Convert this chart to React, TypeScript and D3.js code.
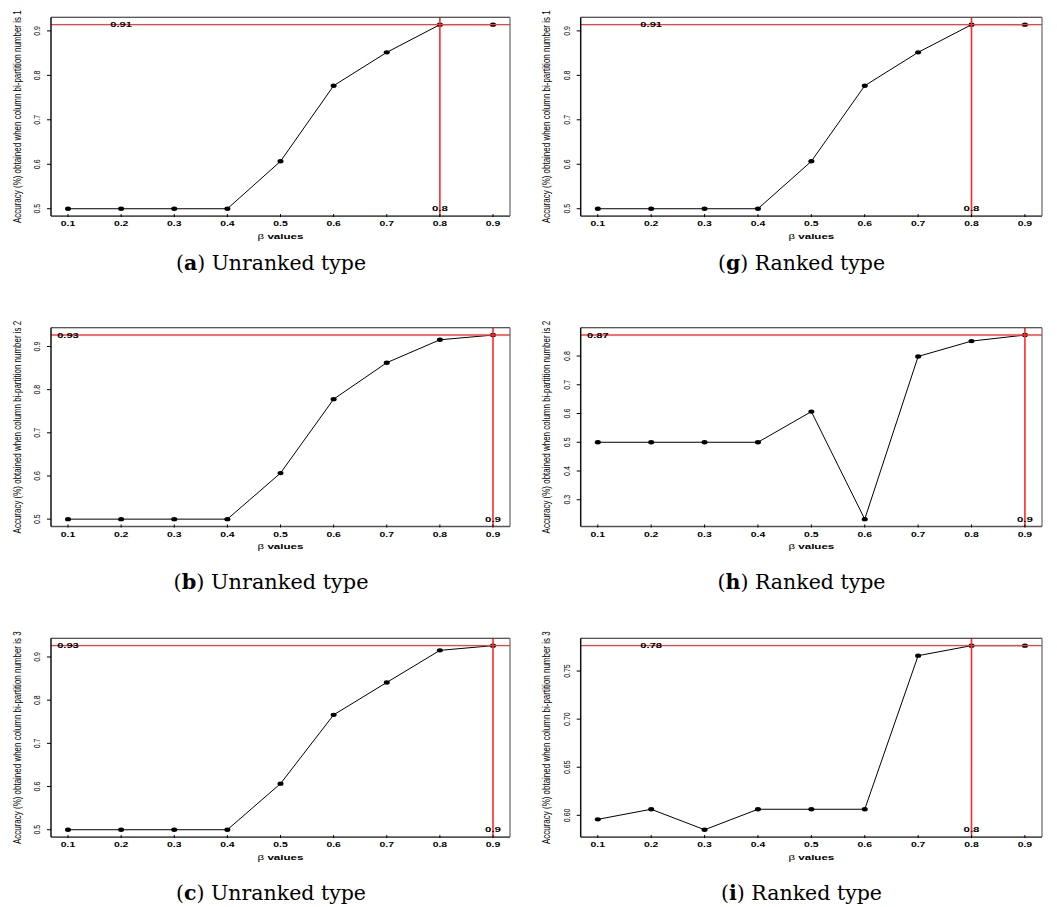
import React from "react";
import * as d3 from "d3";

// ---- data ----
const betaValues = [0.1, 0.2, 0.3, 0.4, 0.5, 0.6, 0.7, 0.8, 0.9];
const xTickLabels = ["0.1", "0.2", "0.3", "0.4", "0.5", "0.6", "0.7", "0.8", "0.9"];

const seriesA = [0.5, 0.5, 0.5, 0.5, 0.6067, 0.7767, 0.8517, 0.914, 0.914];
const seriesB = [0.5, 0.5, 0.5, 0.5, 0.6067, 0.778, 0.8625, 0.9155, 0.9265];
const seriesC = [0.5, 0.5, 0.5, 0.5, 0.6067, 0.766, 0.841, 0.9153, 0.9262];
const seriesG = [0.5, 0.5, 0.5, 0.5, 0.6067, 0.7767, 0.8517, 0.914, 0.914];
const seriesH = [0.5, 0.5, 0.5, 0.5, 0.6067, 0.2325, 0.7986, 0.852, 0.873];
const seriesI = [0.5958, 0.6063, 0.585, 0.6063, 0.6063, 0.6063, 0.766, 0.7764, 0.7764];

const panelLetters = ["a", "b", "c", "g", "h", "i"];
const panelSeries = [seriesA, seriesB, seriesC, seriesG, seriesH, seriesI];
const panelTypes = ["Unranked type", "Unranked type", "Unranked type", "Ranked type", "Ranked type", "Ranked type"];
const partitionNumbers = [1, 2, 3, 1, 2, 3];
const maxLabelBeta = [0.2, 0.1, 0.1, 0.2, 0.1, 0.2];
const bestBeta = [0.8, 0.9, 0.9, 0.8, 0.9, 0.8];
const bestLabels = ["0.8", "0.9", "0.9", "0.8", "0.9", "0.8"];

// ---- layout ----
const colLeft = [51, 580.7];
const colWidth = [459, 461.3];
const rowTop = [17.3, 327.7, 638.3];
const boxHeight = 198.8;
const captionBaseline = [270, 589.3, 900];
const captionCenter = [271, 801.5];
const captionWidths = [190, 195, 190, 167, 168, 161];

const SANS = "'Liberation Sans', Arial, Helvetica, sans-serif";
const SERIF = "'DejaVu Serif', 'Liberation Serif', serif";

let measureCtx: CanvasRenderingContext2D | null = null;
function measure(text: string, font: string): number {
  if (!measureCtx && typeof document !== "undefined") {
    measureCtx = document.createElement("canvas").getContext("2d");
  }
  if (!measureCtx) return text.length * 5;
  measureCtx.font = font;
  return measureCtx.measureText(text).width;
}

type StretchProps = {
  x: number;
  y: number;
  text: string;
  size: number;
  bold?: boolean;
  target: number;
  rotate?: number;
  anchor?: "start" | "middle" | "end";
};

function Stretch({ x, y, text, size, bold = false, target, rotate = 0, anchor = "middle" }: StretchProps) {
  const natural = measure(text, `${bold ? "bold " : ""}${size}px 'Liberation Sans'`);
  const sx = natural > 0 ? target / natural : 1;
  return (
    <text
      transform={`translate(${x},${y}) rotate(${rotate}) scale(${sx},1)`}
      textAnchor={anchor}
      fontFamily={SANS}
      fontWeight={bold ? "bold" : "normal"}
      fontSize={size}
      fill="#000"
    >
      {text}
    </text>
  );
}

type PanelProps = { idx: number };

function Panel({ idx }: PanelProps) {
  const col = idx < 3 ? 0 : 1;
  const row = idx % 3;
  const left = colLeft[col];
  const width = colWidth[col];
  const top = rowTop[row];
  const bottom = top + boxHeight;
  const right = left + width;
  const values = panelSeries[idx];

  const xPad = (d3.max(betaValues)! - d3.min(betaValues)!) * 0.04;
  const x = d3
    .scaleLinear()
    .domain([d3.min(betaValues)! - xPad, d3.max(betaValues)! + xPad])
    .range([left, right]);
  const yMin = d3.min(values)!;
  const yMax = d3.max(values)!;
  const yPad = (yMax - yMin) * 0.04;
  const y = d3.scaleLinear().domain([yMin - yPad, yMax + yPad]).range([bottom, top]);
  const yTicks = y.ticks(5);
  const yFmt = y.tickFormat(5);

  const line = d3
    .line<number>()
    .x((_, i) => x(betaValues[i]))
    .y((d) => y(d));

  const maxLabel = d3.format(".2f")(yMax);
  const clipId = `clip-${idx}`;
  const betaFont = `7.5px 'Liberation Sans'`;
  const betaW = measure("β", betaFont) + measure(" values", `bold ${betaFont}`);
  const betaSx = 46 / betaW;

  return (
    <g>
      <defs>
        <clipPath id={clipId}>
          <rect x={left} y={top} width={width} height={boxHeight} />
        </clipPath>
      </defs>
      {/* series */}
      <path d={line(values)!} fill="none" stroke="#000" strokeWidth={1} />
      {values.map((v, i) => (
        <ellipse key={i} cx={x(betaValues[i])} cy={y(v)} rx={3} ry={2.2} fill="#000" />
      ))}
      {/* red reference lines */}
      <g clipPath={`url(#${clipId})`}>
        <line x1={left} x2={right} y1={y(yMax)} y2={y(yMax)} stroke="#ff3a3a" strokeWidth={1.4} />
        <line x1={x(bestBeta[idx])} x2={x(bestBeta[idx])} y1={top} y2={bottom} stroke="#ff2a2a" strokeWidth={1.6} />
      </g>
      {/* annotation labels */}
      <Stretch x={x(maxLabelBeta[idx])} y={y(yMax) + 2.7} text={maxLabel} size={7.5} bold target={21.6} />
      <Stretch x={x(bestBeta[idx])} y={y(yMin) + 2.7} text={bestLabels[idx]} size={7.5} bold target={16} />
      {/* box */}
      <line x1={left} x2={right} y1={top} y2={top} stroke="#222" strokeWidth={1.1} />
      <line x1={right} x2={right} y1={top} y2={bottom} stroke="#666" strokeWidth={1.2} />
      <line x1={left} x2={right} y1={bottom} y2={bottom} stroke="#555" strokeWidth={1.6} />
      <line x1={left} x2={left} y1={top} y2={bottom} stroke="#111" strokeWidth={1.5} />
      {/* y axis */}
      {yTicks.map((t) => {
        const s = yFmt(t);
        const nat = measure(s, `9px 'Liberation Sans'`);
        return (
          <g key={t}>
            <line x1={left - 4} x2={left} y1={y(t)} y2={y(t)} stroke="#000" strokeWidth={1} />
            <Stretch x={left - 11} y={y(t)} text={s} size={9} target={nat * 0.78} rotate={-90} />
          </g>
        );
      })}
      <Stretch
        x={left - 30.5}
        y={(top + bottom) / 2}
        text={`Accuracy (%) obtained when column bi-partition number is ${partitionNumbers[idx]}`}
        size={10}
        target={213}
        rotate={-90}
      />
      {/* x axis */}
      {betaValues.map((b, i) => (
        <g key={b}>
          <line x1={x(b)} x2={x(b)} y1={bottom - 2} y2={bottom + 1} stroke="#000" strokeWidth={1} />
          <Stretch x={x(b)} y={bottom + 10} text={xTickLabels[i]} size={7.5} bold target={14.5} />
        </g>
      ))}
      <text
        transform={`translate(${(left + right) / 2},${bottom + 22.5}) scale(${betaSx},1)`}
        textAnchor="middle"
        fontFamily={SANS}
        fontSize={7.5}
        fill="#000"
      >
        <tspan fontWeight="normal">β</tspan>
        <tspan fontWeight="bold"> values</tspan>
      </text>
      {/* caption */}
      <text
        x={captionCenter[col]}
        y={captionBaseline[row]}
        textAnchor="middle"
        fontFamily={SERIF}
        fontSize={19.6}
        textLength={captionWidths[idx]}
        lengthAdjust="spacingAndGlyphs"
        fill="#000"
      >
        (<tspan fontWeight="bold">{panelLetters[idx]}</tspan>) {panelTypes[idx]}
      </text>
    </g>
  );
}

export default function App() {
  return (
    <svg
      width={1057}
      height={907}
      viewBox="0 0 1057 907"
      style={{ position: "absolute", left: 0, top: 0, background: "#fff" }}
    >
      <rect x={0} y={0} width={1057} height={907} fill="#fff" />
      {panelLetters.map((_, i) => (
        <Panel key={i} idx={i} />
      ))}
    </svg>
  );
}
